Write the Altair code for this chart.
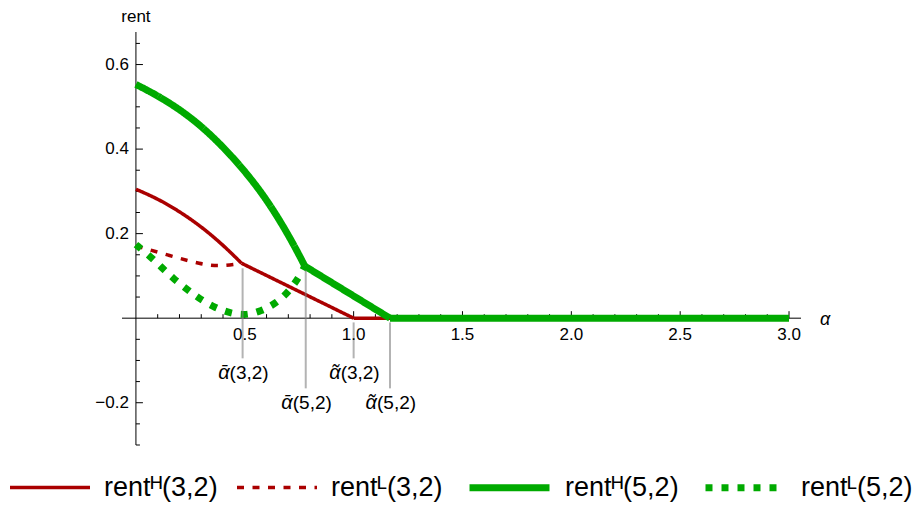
import altair as alt
import pandas as pd
import numpy as np

# ---------------- data ----------------
series_keys = ["H32", "L32", "H52", "L52"]
series_labels = ["rent\u1d34(3,2)", "rent\u1d38(3,2)", "rent\u1d34(5,2)", "rent\u1d38(5,2)"]
series_colors = ["#aa0000", "#aa0000", "#00aa00", "#00aa00"]
series_dash = [[1, 0], [7, 8.5], [1, 0], [7, 9]]
series_width = [3.5, 3.5, 7, 7]

# rent^H(3,2): curved part, then straight parts
h32_curve_a = [0.0, 0.125, 0.279, 0.401, 0.485]
h32_curve_r = [0.305, 0.277, 0.226, 0.173, 0.130]
h32_line_a = [0.485, 1.0]
h32_line_r = [0.130, 0.0]
h32_flat_a = [1.0, 3.0]
h32_flat_r = [0.0, 0.0]

# rent^L(3,2)
l32_a = [0.0, 0.156, 0.302, 0.378, 0.455, 0.485]
l32_r = [0.171, 0.148, 0.127, 0.123, 0.127, 0.130]

# rent^H(5,2)
h52_curve_a = [0.0, 0.125, 0.279, 0.432, 0.585, 0.707, 0.776]
h52_curve_r = [0.553, 0.520, 0.466, 0.390, 0.295, 0.192, 0.123]
h52_line_a = [0.776, 1.167]
h52_line_r = [0.123, 0.0]
h52_flat_a = [1.167, 3.0]
h52_flat_r = [0.0, 0.0]

# rent^L(5,2)
l52_a = [0.0, 0.064, 0.118, 0.171, 0.233, 0.286, 0.355, 0.424, 0.5, 0.577, 0.646, 0.70, 0.746, 0.776]
l52_r = [0.174, 0.147, 0.120, 0.094, 0.069, 0.048, 0.027, 0.013, 0.006, 0.017, 0.036, 0.062, 0.094, 0.123]

# threshold markers
mark_sym = ["\u1fb1", "\u1fb1", "\u1fb6", "\u1fb6"]
mark_args = ["(3,2)", "(5,2)", "(3,2)", "(5,2)"]
mark_alpha = [0.49, 0.78, 1.0, 1.167]
mark_top = [0.118, 0.113, -0.01, -0.01]
mark_bottom = [-0.095, -0.166, -0.095, -0.166]

# axes
x_domain = [-0.064, 3.055]
y_domain = [-0.30, 0.677]
x_major = [0.5, 1.0, 1.5, 2.0, 2.5, 3.0]
x_major_labels = ["0.5", "1.0", "1.5", "2.0", "2.5", "3.0"]
y_major = [-0.2, 0.2, 0.4, 0.6]
y_major_labels = ["\u22120.2", "0.2", "0.4", "0.6"]
x_minor = [v for v in np.round(np.arange(0.1, 3.0, 0.1), 2) if not any(abs(v - m) < 1e-6 for m in x_major)]
y_minor = [v for v in np.round(np.arange(-0.30, 0.66, 0.05), 2) if not any(abs(v - m) < 1e-6 for m in y_major + [0.0])]

# ---------------- build tables ----------------
rows = []
def add(series, piece, xs_, ys_):
    for i, (a, r) in enumerate(zip(xs_, ys_)):
        rows.append({"series": series, "piece": piece, "alpha": a, "rent": r, "idx": i})

add("H32", "H32a", h32_curve_a, h32_curve_r)
add("H32", "H32b", h32_line_a, h32_line_r)
add("H32", "H32c", h32_flat_a, h32_flat_r)
add("L32", "L32a", l32_a, l32_r)
add("H52", "H52a", h52_curve_a, h52_curve_r)
add("H52", "H52b", h52_line_a, h52_line_r)
add("H52", "H52c", h52_flat_a, h52_flat_r)
add("L52", "L52a", l52_a, l52_r)
curve_df = pd.DataFrame(rows)

W, H = 679, 413
FONT = "Liberation Sans"

xs = alt.Scale(domain=x_domain, nice=False, zero=False)
ys = alt.Scale(domain=y_domain, nice=False, zero=False)

def X(f):
    return alt.X(f, scale=xs, axis=None)

def Y(f):
    return alt.Y(f, scale=ys, axis=None)

# axis lines
axis_df = pd.DataFrame({"a": [x_domain[0], 0.0], "a2": [x_domain[1], 0.0],
                        "r": [0.0, y_domain[0]], "r2": [0.0, y_domain[1]]})
axis_lines = alt.Chart(axis_df).mark_rule(color="black", strokeWidth=1).encode(
    x=X("a:Q"), x2="a2:Q", y=Y("r:Q"), y2="r2:Q")

# x ticks
xmaj_df = pd.DataFrame({"a": x_major, "r": 0.0, "lab": x_major_labels})
xmin_df = pd.DataFrame({"a": x_minor, "r": 0.0})
x_major_ticks = alt.Chart(xmaj_df).mark_rule(color="black", strokeWidth=1, y2Offset=-7).encode(
    x=X("a:Q"), y=Y("r:Q"), y2="r:Q")
x_minor_ticks = alt.Chart(xmin_df).mark_rule(color="black", strokeWidth=1, y2Offset=-4).encode(
    x=X("a:Q"), y=Y("r:Q"), y2="r:Q")
x_labels = alt.Chart(xmaj_df).mark_text(dy=17, baseline="middle", align="center",
                                        font=FONT, fontSize=17, color="black").encode(
    x=X("a:Q"), y=Y("r:Q"), text="lab:N")

# y ticks
ymaj_df = pd.DataFrame({"a": 0.0, "r": y_major, "lab": y_major_labels})
ymin_df = pd.DataFrame({"a": 0.0, "r": y_minor})
y_major_ticks = alt.Chart(ymaj_df).mark_rule(color="black", strokeWidth=1, x2Offset=7).encode(
    x=X("a:Q"), x2="a:Q", y=Y("r:Q"))
y_minor_ticks = alt.Chart(ymin_df).mark_rule(color="black", strokeWidth=1, x2Offset=4).encode(
    x=X("a:Q"), x2="a:Q", y=Y("r:Q"))
y_labels = alt.Chart(ymaj_df).mark_text(dx=-7, baseline="middle", align="right",
                                        font=FONT, fontSize=17, color="black").encode(
    x=X("a:Q"), y=Y("r:Q"), text="lab:N")

# axis titles
ytitle_df = pd.DataFrame({"a": [0.0], "r": [y_domain[1]], "t": ["rent"]})
y_title = alt.Chart(ytitle_df).mark_text(dy=-10, baseline="alphabetic", align="center",
                                         font=FONT, fontSize=17, color="black").encode(
    x=X("a:Q"), y=Y("r:Q"), text="t:N")
xtitle_df = pd.DataFrame({"a": [x_domain[1]], "r": [0.0], "t": ["\u03b1"]})
x_title = alt.Chart(xtitle_df).mark_text(dx=19, dy=2, baseline="middle", align="left",
                                         font=FONT, fontSize=18, fontStyle="italic", color="black").encode(
    x=X("a:Q"), y=Y("r:Q"), text="t:N")

# curves + legend
leg = alt.Legend(
    orient="none", legendX=-114, legendY=412, direction="horizontal", title=None,
    symbolType="stroke", symbolSize=6400, labelFont=FONT, labelFontSize=27,
    labelColor="black", labelOffset=12, columnPadding=12, labelLimit=400,
    labelExpr="{" + ", ".join(f"'{k}': '{v}'" for k, v in zip(series_keys, series_labels)) + "}[datum.label]",
)
curves = alt.Chart(curve_df).mark_line(interpolate="basis", strokeCap="butt", strokeJoin="miter").encode(
    x=X("alpha:Q"), y=Y("rent:Q"),
    color=alt.Color("series:N", scale=alt.Scale(domain=series_keys, range=series_colors), legend=leg),
    strokeDash=alt.StrokeDash("series:N", scale=alt.Scale(domain=series_keys, range=series_dash), legend=leg),
    strokeWidth=alt.StrokeWidth("series:N", scale=alt.Scale(type="ordinal", domain=series_keys, range=series_width), legend=leg),
    detail="piece:N", order="idx:Q")

# threshold markers
marks_df = pd.DataFrame({"sym": mark_sym, "arg": mark_args, "a": mark_alpha,
                         "top": mark_top, "bot": mark_bottom})
mark_lines = alt.Chart(marks_df).mark_rule(color="#808080", opacity=0.6, strokeWidth=2).encode(
    x=X("a:Q"), y=Y("top:Q"), y2="bot:Q")
mark_sym_text = alt.Chart(marks_df).mark_text(dy=15, dx=-13, baseline="middle", align="right",
                                              font=FONT, fontSize=20, fontStyle="italic", color="black").encode(
    x=X("a:Q"), y=Y("bot:Q"), text="sym:N")
mark_arg_text = alt.Chart(marks_df).mark_text(dy=15, dx=-13, baseline="middle", align="left",
                                              font=FONT, fontSize=19, color="black").encode(
    x=X("a:Q"), y=Y("bot:Q"), text="arg:N")

chart = alt.layer(
    axis_lines, x_minor_ticks, x_major_ticks, y_minor_ticks, y_major_ticks,
    curves, mark_lines, x_labels, y_labels, mark_sym_text, mark_arg_text, y_title, x_title,
).properties(
    width=W, height=H,
    autosize=alt.AutoSizeParams(type="none"),
    padding={"left": 114, "top": 24, "right": 113, "bottom": 57},
).configure_view(stroke=None)

chart.save("out.html", embed_options={"renderer": "svg", "actions": False})
